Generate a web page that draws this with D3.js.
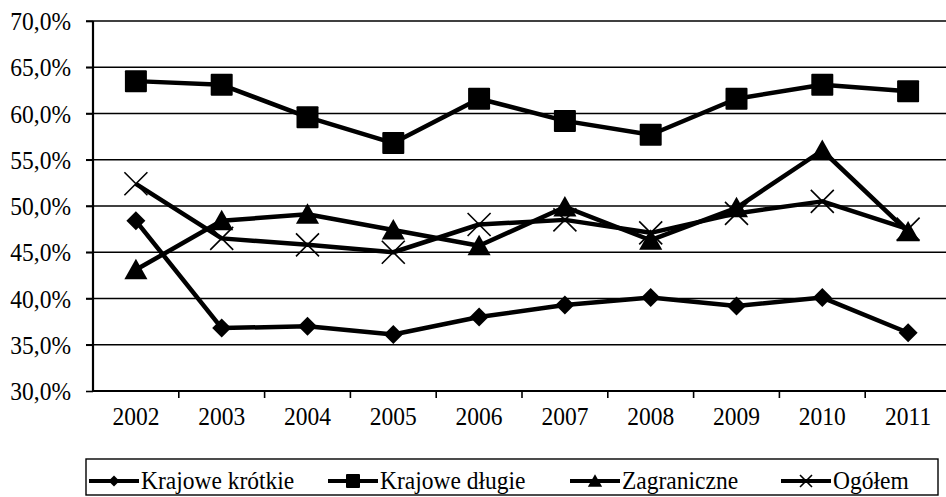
<!DOCTYPE html>
<html><head><meta charset="utf-8">
<script src="https://cdn.jsdelivr.net/npm/d3@7"></script>
<style>body{margin:0;background:#fff}svg{display:block}svg text{font-family:"Liberation Serif","Times New Roman",Times,serif;fill:#000}</style>
</head><body><svg id="c" width="946" height="497"></svg>
<script>
const years = ["2002","2003","2004","2005","2006","2007","2008","2009","2010","2011"];
const krajoweKrotkie = [48.4, 36.8, 37.0, 36.1, 38.0, 39.3, 40.1, 39.2, 40.1, 36.3];
const krajoweDlugie  = [63.5, 63.1, 59.6, 56.8, 61.6, 59.2, 57.7, 61.6, 63.1, 62.4];
const zagraniczne    = [43.1, 48.4, 49.1, 47.4, 45.7, 49.9, 46.3, 49.8, 56.0, 47.2];
const ogolem         = [52.4, 46.5, 45.8, 45.0, 48.0, 48.5, 47.1, 49.2, 50.5, 47.5];
const seriesNames = ["Krajowe krótkie","Krajowe długie","Zagraniczne","Ogółem"];
const yTicks = [30,35,40,45,50,55,60,65,70];

const series = [
  {name:seriesNames[0], values:krajoweKrotkie, marker:"diamond"},
  {name:seriesNames[1], values:krajoweDlugie, marker:"square"},
  {name:seriesNames[2], values:zagraniczne, marker:"triangle"},
  {name:seriesNames[3], values:ogolem, marker:"x"}
];

const svg = d3.select("#c");
const L=93, R=951, T=21, B=391;
const x = d3.scaleBand().domain(years).range([L,R]);
const y = d3.scaleLinear().domain([30,70]).range([B,T]);
const FS = "25px", SX = 0.94;
const FF = '"Liberation Serif","Times New Roman",Times,serif';
const fmt = v => d3.format(".1f")(v).replace(".",",")+"%";

// gridlines
svg.append("g").selectAll("line").data(yTicks.filter(d=>d>30)).join("line")
  .attr("x1",L-7).attr("x2",R).attr("y1",d=>y(d)).attr("y2",d=>y(d))
  .attr("stroke","#000").attr("stroke-width",1.4);

// y axis
const yAx = svg.append("g").attr("transform",`translate(${L},0)`)
  .call(d3.axisLeft(y).tickValues(yTicks).tickSize(7).tickPadding(0).tickFormat(fmt));
yAx.attr("font-family",FF);
yAx.select(".domain").attr("stroke-width",2.2).attr("d",`M0,${B+1}V${T}`);
yAx.selectAll(".tick line").attr("stroke-width",1.6);
yAx.selectAll("text").style("font-size",FS).attr("fill","#000").attr("dy","0.34em")
  .attr("x",-22/SX).attr("transform",`scale(${SX},1)`);

// x axis
const xAx = svg.append("g").attr("transform",`translate(0,${B})`)
  .call(d3.axisBottom(x).tickSize(0).tickPadding(22));
xAx.attr("font-family",FF);
xAx.select(".domain").attr("stroke-width",2.2).attr("d",`M${L},0H${R}`);
xAx.selectAll("text").style("font-size",FS).attr("fill","#000").attr("dy","0.5em").attr("transform",`scale(${SX},1)`);
svg.append("g").selectAll("line").data(years.slice(1).concat(["end"])).join("line")
  .attr("x1",(d,i)=>L+x.step()*(i+1)).attr("x2",(d,i)=>L+x.step()*(i+1))
  .attr("y1",B).attr("y2",B+7).attr("stroke","#000").attr("stroke-width",1.6);

function drawMarker(g, type, cx, cy, s){
  if(type==="diamond"){
    g.append("path").attr("d",`M${cx},${cy-s}L${cx+s},${cy}L${cx},${cy+s}L${cx-s},${cy}Z`).attr("fill","#000");
  } else if(type==="square"){
    g.append("rect").attr("x",cx-s).attr("y",cy-s).attr("width",2*s).attr("height",2*s).attr("fill","#000").attr("rx",1);
  } else if(type==="triangle"){
    g.append("path").attr("d",`M${cx},${cy-s*1.05}L${cx+s*1.1},${cy+s*0.9}L${cx-s*1.1},${cy+s*0.9}Z`).attr("fill","#000");
  } else {
    g.append("path").attr("d",`M${cx-s},${cy-s}L${cx+s},${cy+s}M${cx-s},${cy+s}L${cx+s},${cy-s}`).attr("stroke","#000").attr("stroke-width",1.6).attr("fill","none");
  }
}
const sizes = {diamond:9.5, square:11, triangle:10.5, x:11.5};
const line = d3.line().x((d,i)=>x(years[i])+x.bandwidth()/2).y(d=>y(d));

series.forEach(s=>{
  const g = svg.append("g");
  g.append("path").attr("d",line(s.values)).attr("fill","none").attr("stroke","#000").attr("stroke-width",4.5).attr("stroke-linejoin","round");
  s.values.forEach((v,i)=>drawMarker(g, s.marker, x(years[i])+x.bandwidth()/2, y(v), sizes[s.marker]));
});

// legend
const lg = svg.append("g").attr("font-family",FF);
lg.append("rect").attr("x",86).attr("y",459).attr("width",852).attr("height",36).attr("fill","none").attr("stroke","#000").attr("stroke-width",1.4);
const legX = [89, 328, 570, 781];
const lsz = {diamond:5.5, square:7, triangle:6.5, x:6};
series.forEach((s,i)=>{
  const gx = legX[i], ly = 481;
  lg.append("line").attr("x1",gx).attr("x2",gx+50).attr("y1",ly).attr("y2",ly).attr("stroke","#000").attr("stroke-width",4);
  drawMarker(lg, s.marker, gx+25, ly, lsz[s.marker]);
  lg.append("g").attr("transform",`translate(${gx+52},489) scale(${SX},1)`)
    .append("text").style("font-size",FS).text(s.name);
});
</script></body></html>
